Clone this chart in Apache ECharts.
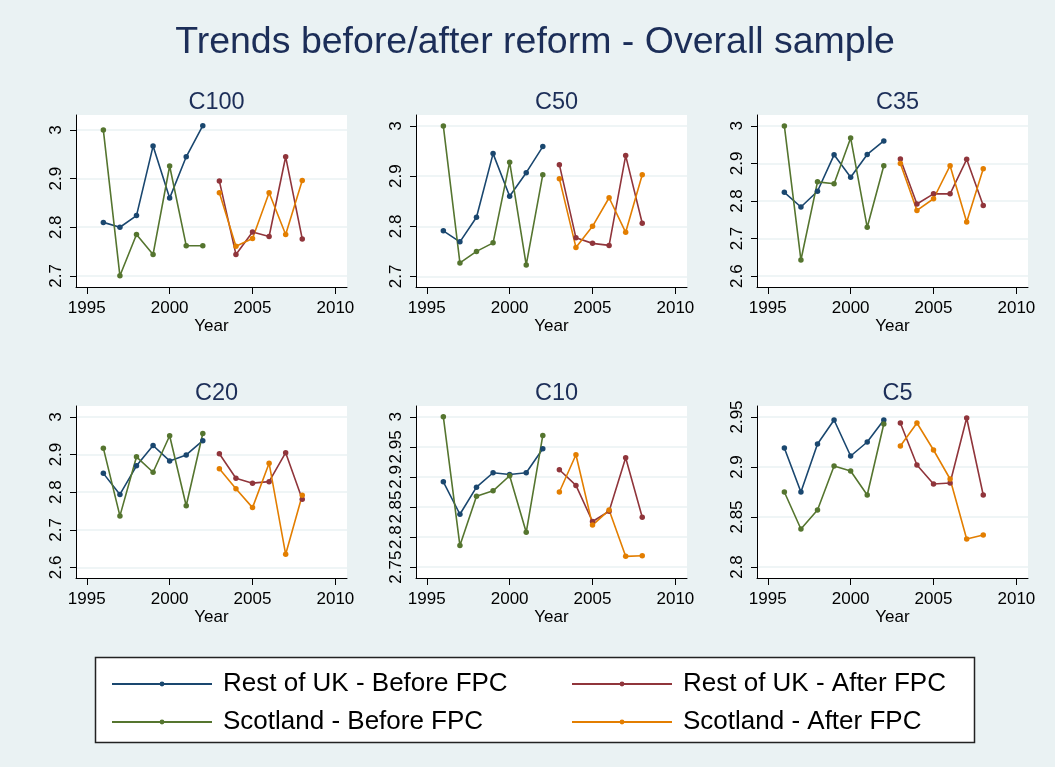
<!DOCTYPE html>
<html>
<head>
<meta charset="utf-8">
<script src="https://cdn.jsdelivr.net/npm/echarts@6/dist/echarts.min.js"></script>
<style>
html,body{margin:0;padding:0;background:#eaf2f3;}
#chart{width:1055px;height:767px;}
</style>
</head>
<body>
<div id="chart"></div>
<script>
// ---- Data ----
const yearsBefore = [1996, 1997, 1998, 1999, 2000, 2001, 2002];
const yearsAfter = [2003, 2004, 2005, 2006, 2007, 2008];
const panelNames = ['C100', 'C50', 'C35', 'C20', 'C10', 'C5'];
const seriesNames = ['Rest of UK - Before FPC', 'Rest of UK - After FPC', 'Scotland - Before FPC', 'Scotland - After FPC'];
const xTicks = [1995, 2000, 2005, 2010];

// C100
const c100RukBefore = [2.810, 2.800, 2.824, 2.967, 2.860, 2.945, 3.009];
const c100ScoBefore = [3.000, 2.700, 2.785, 2.744, 2.926, 2.762, 2.762];
const c100RukAfter = [2.895, 2.744, 2.790, 2.781, 2.945, 2.776];
const c100ScoAfter = [2.871, 2.761, 2.777, 2.871, 2.785, 2.896];
// C50
const c50RukBefore = [2.791, 2.769, 2.818, 2.945, 2.860, 2.907, 2.959];
const c50ScoBefore = [3.000, 2.727, 2.750, 2.767, 2.928, 2.723, 2.903];
const c50RukAfter = [2.923, 2.777, 2.766, 2.762, 2.941, 2.806];
const c50ScoAfter = [2.895, 2.758, 2.800, 2.857, 2.788, 2.903];
// C35
const c35RukBefore = [2.823, 2.784, 2.826, 2.923, 2.863, 2.924, 2.960];
const c35ScoBefore = [3.000, 2.643, 2.851, 2.846, 2.968, 2.730, 2.894];
const c35RukAfter = [2.912, 2.792, 2.819, 2.819, 2.911, 2.788];
const c35ScoAfter = [2.900, 2.775, 2.806, 2.894, 2.744, 2.886];
// C20
const c20RukBefore = [2.850, 2.794, 2.870, 2.924, 2.883, 2.899, 2.937];
const c20ScoBefore = [2.917, 2.737, 2.894, 2.853, 2.950, 2.764, 2.956];
const c20RukAfter = [2.902, 2.837, 2.824, 2.828, 2.905, 2.781];
const c20ScoAfter = [2.862, 2.809, 2.759, 2.877, 2.635, 2.792];
// C10
const c10RukBefore = [2.892, 2.838, 2.883, 2.907, 2.904, 2.907, 2.947];
const c10ScoBefore = [3.000, 2.786, 2.868, 2.877, 2.902, 2.808, 2.969];
const c10RukAfter = [2.912, 2.886, 2.826, 2.843, 2.932, 2.833];
const c10ScoAfter = [2.875, 2.937, 2.820, 2.845, 2.768, 2.769];
// C5
const c5RukBefore = [2.919, 2.875, 2.923, 2.947, 2.911, 2.925, 2.947];
const c5ScoBefore = [2.875, 2.838, 2.857, 2.901, 2.896, 2.872, 2.943];
const c5RukAfter = [2.944, 2.902, 2.883, 2.884, 2.949, 2.872];
const c5ScoAfter = [2.921, 2.944, 2.917, 2.888, 2.828, 2.832];

// y tick labels per panel
const c100Ticks = [2.7, 2.8, 2.9, 3];
const c50Ticks = [2.7, 2.8, 2.9, 3];
const c35Ticks = [2.6, 2.7, 2.8, 2.9, 3];
const c20Ticks = [2.6, 2.7, 2.8, 2.9, 3];
const c10Ticks = [2.75, 2.8, 2.85, 2.9, 2.95, 3];
const c5Ticks = [2.8, 2.85, 2.9, 2.95];

const panelData = [
  [c100RukBefore, c100RukAfter, c100ScoBefore, c100ScoAfter],
  [c50RukBefore, c50RukAfter, c50ScoBefore, c50ScoAfter],
  [c35RukBefore, c35RukAfter, c35ScoBefore, c35ScoAfter],
  [c20RukBefore, c20RukAfter, c20ScoBefore, c20ScoAfter],
  [c10RukBefore, c10RukAfter, c10ScoBefore, c10ScoAfter],
  [c5RukBefore, c5RukAfter, c5ScoBefore, c5ScoAfter]
];
const panelTicks = [c100Ticks, c50Ticks, c35Ticks, c20Ticks, c10Ticks, c5Ticks];

// ---- Layout / style (not data) ----
const yRanges = [[2.677, 3.031], [2.679, 3.022], [2.571, 3.029], [2.572, 3.029], [2.732, 3.018], [2.789, 2.961]];
const xRange = [1994.35, 2010.7];
const gridPos = [
  {left: 76, top: 115}, {left: 416, top: 115}, {left: 757, top: 115},
  {left: 76, top: 406}, {left: 416, top: 406}, {left: 757, top: 406}
];
const gridW = 271, gridH = 172;
const colors = ['#1a476f', '#90353b', '#55752f', '#e37e00'];
const FONT = '"Liberation Sans", Arial, Helvetica, sans-serif';
const TITLE_COLOR = '#1c2e58';

const grids = [], xAxes = [], yAxes = [], series = [], titles = [];
titles.push({
  text: 'Trends before/after reform - Overall sample',
  left: 530, textAlign: 'center', top: 19,
  textStyle: {fontFamily: FONT, fontSize: 37.5, fontWeight: 'normal', color: TITLE_COLOR}
});

gridPos.forEach((g, i) => {
  grids.push({left: g.left, top: g.top, width: gridW, height: gridH, show: true,
    backgroundColor: '#ffffff', borderWidth: 0, containLabel: false});
  titles.push({
    text: panelNames[i],
    left: g.left + gridW / 2, top: g.top - 29, textAlign: 'center',
    textStyle: {fontFamily: FONT, fontSize: 23.5, fontWeight: 'normal', color: TITLE_COLOR}
  });
  xAxes.push({
    type: 'value', gridIndex: i, min: xRange[0], max: xRange[1],
    name: 'Year', nameLocation: 'middle', nameGap: 29,
    nameTextStyle: {fontFamily: FONT, fontSize: 17, color: '#000'},
    axisLine: {show: true, onZero: false, lineStyle: {color: '#000', width: 1}},
    axisTick: {show: true, length: 7, customValues: xTicks, lineStyle: {color: '#000'}},
    axisLabel: {customValues: xTicks, margin: 13, fontFamily: FONT, fontSize: 17, color: '#000',
      formatter: v => String(Math.round(v))},
    splitLine: {show: false}
  });
  yAxes.push({
    type: 'value', gridIndex: i, min: yRanges[i][0], max: yRanges[i][1],
    axisLine: {show: true, onZero: false, lineStyle: {color: '#000', width: 1}},
    axisTick: {show: true, length: 6, customValues: panelTicks[i], lineStyle: {color: '#000'}},
    axisLabel: {customValues: panelTicks[i], rotate: 90, margin: 11, fontFamily: FONT, fontSize: 17, color: '#000'},
    splitLine: {show: true, lineStyle: {color: '#eaf2f3', width: 1.5}}
  });
  panelData[i].forEach((vals, s) => {
    const yrs = (s % 2 === 0) ? yearsBefore : yearsAfter;
    series.push({
      name: seriesNames[s], type: 'line', xAxisIndex: i, yAxisIndex: i,
      data: yrs.map((y, k) => [y, vals[k]]),
      symbol: 'circle', symbolSize: 5.5, showSymbol: true, clip: false,
      lineStyle: {color: colors[s], width: 1.6},
      itemStyle: {color: colors[s]},
      emphasis: {disabled: true}
    });
  });
});

const legendCommon = {
  orient: 'vertical', itemWidth: 100, itemHeight: 6, itemGap: 0,
  selectedMode: false,
  textStyle: {fontFamily: FONT, fontSize: 26, color: '#000', lineHeight: 38, padding: [0, 0, 0, 6]}
};

const option = {
  backgroundColor: '#eaf2f3',
  animation: false,
  title: titles,
  grid: grids,
  xAxis: xAxes,
  yAxis: yAxes,
  series: series,
  legend: [
    Object.assign({left: 106, top: 660, data: [seriesNames[0], seriesNames[2]]}, legendCommon),
    Object.assign({left: 566, top: 660, data: [seriesNames[1], seriesNames[3]]}, legendCommon)
  ],
  graphic: [{
    type: 'rect', z: 0, silent: true,
    shape: {x: 95.5, y: 657.5, width: 879, height: 85},
    style: {fill: '#ffffff', stroke: '#222', lineWidth: 1.5}
  }]
};

const chart = echarts.init(document.getElementById('chart'), null, {renderer: 'canvas'});
chart.setOption(option);
</script>
</body>
</html>
